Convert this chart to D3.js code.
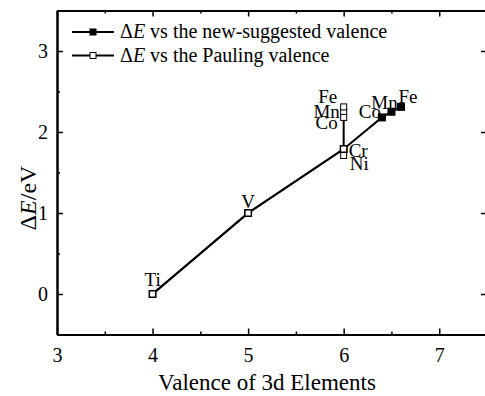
<!DOCTYPE html>
<html>
<head>
<meta charset="utf-8">
<script src="https://cdn.jsdelivr.net/npm/d3@7"></script>
<style>
  body { margin: 0; background: #fff; }
  svg { font-family: "Liberation Serif", "Times New Roman", serif; }
</style>
</head>
<body>
<div id="chart"></div>
<script>
// element names and their ΔE (eV)
const elements = ['Ti', 'V', 'Cr', 'Mn', 'Fe', 'Co', 'Ni'];
const deltaE = [0, 1.0, 1.79, 2.25, 2.31, 2.18, 1.71];

// Pauling valence (open squares), in element order
const paulingValence = [4, 5, 6, 6, 6, 6, 6];

// new-suggested valence (filled squares), sorted by valence
const newElements = ['Ti', 'V', 'Cr', 'Co', 'Mn', 'Fe'];
const newValence = [4, 5, 6, 6.4, 6.5, 6.6];

const xTicks = [3, 4, 5, 6, 7];
const yTicks = [0, 1, 2, 3];

const width = 485, height = 396;
const plotL = 57, plotR = 487, plotT = 10.5, plotB = 334.5;
const serif = '"Liberation Serif", "Times New Roman", serif';

const svg = d3.select('#chart').append('svg')
  .attr('width', width)
  .attr('height', height);

const x = d3.scaleLinear().domain([3, 7.5]).range([plotL, plotR]);
const y = d3.scaleLinear().domain([-0.5, 3.5]).range([plotB, plotT]);

const minorX = d3.range(3.5, 7.5, 1);
const minorY = d3.range(-0.5, 3.5, 1);

// axes, ticks pointing inward
svg.append('g').attr('transform', 'translate(0,' + plotB + ')')
  .call(d3.axisBottom(x).tickValues(xTicks).tickFormat(d3.format('d'))
    .tickSizeInner(-6).tickSizeOuter(0).tickPadding(13));
svg.append('g').attr('transform', 'translate(0,' + plotB + ')')
  .call(d3.axisBottom(x).tickValues(minorX).tickFormat('').tickSizeInner(-3).tickSizeOuter(0));
svg.append('g').attr('transform', 'translate(0,' + plotT + ')')
  .call(d3.axisTop(x).tickValues(xTicks).tickFormat('').tickSizeInner(-6).tickSizeOuter(0));
svg.append('g').attr('transform', 'translate(0,' + plotT + ')')
  .call(d3.axisTop(x).tickValues(minorX).tickFormat('').tickSizeInner(-3).tickSizeOuter(0));

svg.append('g').attr('transform', 'translate(' + plotL + ',0)')
  .call(d3.axisLeft(y).tickValues(yTicks).tickFormat(d3.format('d'))
    .tickSizeInner(-6).tickSizeOuter(0).tickPadding(9));
svg.append('g').attr('transform', 'translate(' + plotL + ',0)')
  .call(d3.axisLeft(y).tickValues(minorY).tickFormat('').tickSizeInner(-3).tickSizeOuter(0));
svg.append('g').attr('transform', 'translate(' + plotR + ',0)')
  .call(d3.axisRight(y).tickValues(yTicks).tickFormat('').tickSizeInner(-6).tickSizeOuter(0));

svg.selectAll('.domain').attr('stroke', '#000').attr('stroke-width', 2);
svg.selectAll('.tick line').attr('stroke', '#000').attr('stroke-width', 1.5);
svg.selectAll('g').attr('font-family', serif);
svg.selectAll('.tick text').attr('font-size', 20).attr('fill', '#000');

// axis titles
svg.append('text')
  .attr('x', 267).attr('y', 390)
  .attr('text-anchor', 'middle')
  .attr('font-size', 23)
  .text('Valence of 3d Elements');

const yTitle = svg.append('text')
  .attr('transform', 'translate(36,198) rotate(-90)')
  .attr('text-anchor', 'middle')
  .attr('font-size', 24);
yTitle.append('tspan').text('Δ');
yTitle.append('tspan').attr('font-style', 'italic').text('E');
yTitle.append('tspan').text('/eV');

const line = d3.line().x(d => x(d[0])).y(d => y(d[1]));

// new-suggested series (filled squares)
const byName = {};
elements.forEach((e, i) => { byName[e] = deltaE[i]; });
const newPts = newElements.map((e, i) => [newValence[i], byName[e]]);

svg.append('path')
  .datum(newPts)
  .attr('d', line)
  .attr('fill', 'none')
  .attr('stroke', '#000')
  .attr('stroke-width', 2);

svg.selectAll('.newpt')
  .data(newPts)
  .enter()
  .append('rect')
  .attr('x', d => x(d[0]) - 4)
  .attr('y', d => y(d[1]) - 4)
  .attr('width', 8).attr('height', 8)
  .attr('fill', '#000');

// Pauling series (open squares)
const pPts = elements.map((e, i) => [paulingValence[i], deltaE[i]]);

svg.append('path')
  .datum(pPts)
  .attr('d', line)
  .attr('fill', 'none')
  .attr('stroke', '#000')
  .attr('stroke-width', 2);

svg.selectAll('.ppt')
  .data(pPts)
  .enter()
  .append('rect')
  .attr('x', d => x(d[0]) - 3)
  .attr('y', d => y(d[1]) - 3)
  .attr('width', 6).attr('height', 6)
  .attr('fill', '#fff')
  .attr('stroke', '#000')
  .attr('stroke-width', 1);

// label offsets from the point: dx, dy, anchor
const pLabelPos = {
  Ti: [0, -8, 'middle'], V: [0, -5, 'middle'],
  Cr: [5, 8, 'start'], Ni: [6, 15, 'start'],
  Fe: [-16, -4, 'middle'], Mn: [-17, 6, 'middle'], Co: [-17, 12, 'middle']
};
const nLabelPos = { Co: [-12, 1, 'middle'], Mn: [-7, -3, 'middle'], Fe: [7, -4, 'middle'] };

svg.selectAll('.plab')
  .data(elements)
  .enter()
  .append('text')
  .attr('x', (e, i) => x(paulingValence[i]) + pLabelPos[e][0])
  .attr('y', (e, i) => y(deltaE[i]) + pLabelPos[e][1])
  .attr('text-anchor', e => pLabelPos[e][2])
  .attr('font-size', 19)
  .text(e => e);

svg.selectAll('.nlab')
  .data(newElements.filter(e => nLabelPos[e]))
  .enter()
  .append('text')
  .attr('x', e => x(newValence[newElements.indexOf(e)]) + nLabelPos[e][0])
  .attr('y', e => y(byName[e]) + nLabelPos[e][1])
  .attr('text-anchor', e => nLabelPos[e][2])
  .attr('font-size', 19)
  .text(e => e);

// legend
const legend = svg.append('g');
const legItems = [
  { fill: '#000', text: ' vs the new-suggested valence', ly: 32 },
  { fill: '#fff', text: ' vs the Pauling valence', ly: 55.5 }
];
legItems.forEach(it => {
  legend.append('line')
    .attr('x1', 72).attr('x2', 114).attr('y1', it.ly).attr('y2', it.ly)
    .attr('stroke', '#000').attr('stroke-width', 2);
  legend.append('rect')
    .attr('x', 90).attr('y', it.ly - 3).attr('width', 6).attr('height', 6)
    .attr('fill', it.fill).attr('stroke', '#000').attr('stroke-width', 1);
  const t = legend.append('text').attr('x', 120).attr('y', it.ly + 6).attr('font-size', 20);
  t.append('tspan').text('Δ');
  t.append('tspan').attr('font-style', 'italic').text('E');
  t.append('tspan').text(it.text);
});
</script>
</body>
</html>
